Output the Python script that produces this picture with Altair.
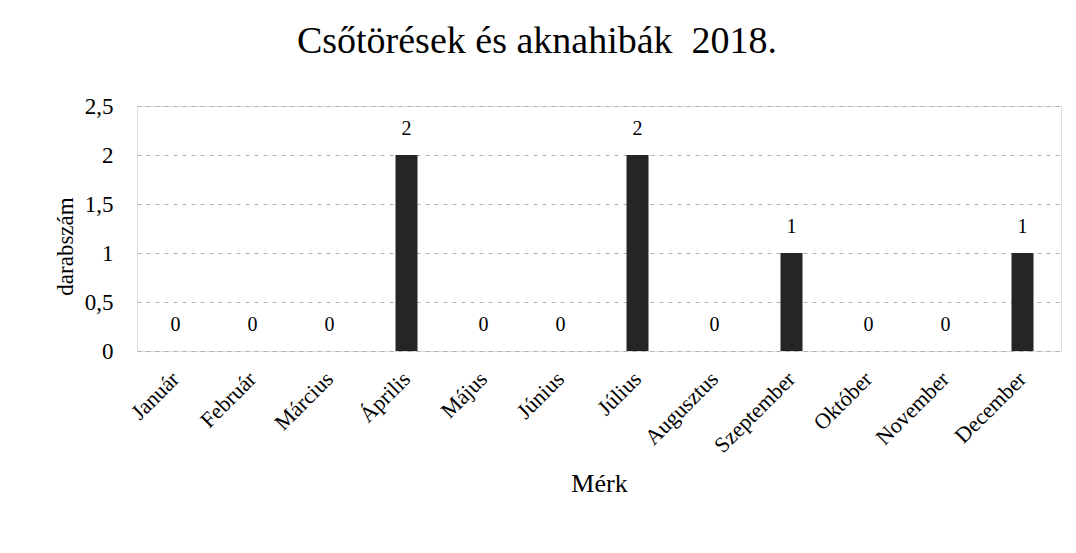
import altair as alt
import pandas as pd

months = ["Január", "Február", "Március", "Április", "Május", "Június",
          "Július", "Augusztus", "Szeptember", "Október", "November", "December"]
counts = [0, 0, 0, 2, 0, 0, 2, 0, 1, 0, 0, 1]
y_ticks = [0, 0.5, 1, 1.5, 2, 2.5]

df = pd.DataFrame({"honap": months, "darab": counts})

FONT = "Liberation Serif"

x_enc = alt.X("honap:N", sort=months, title="Mérk",
              scale=alt.Scale(paddingInner=0.71, paddingOuter=0.355),
              axis=alt.Axis(labelAngle=-45, labelFont=FONT, labelFontSize=22,
                            labelColor="black", domain=False, ticks=False,
                            labelPadding=17, labelOffset=-7,
                            titleFont=FONT, titleFontSize=26,
                            titleFontWeight="normal", titleColor="black",
                            titleY=119, titleBaseline="top"))
y_enc = alt.Y("darab:Q", title="darabszám",
              scale=alt.Scale(domain=[0, 2.5], nice=False),
              axis=alt.Axis(values=y_ticks, format="~g",
                            labelExpr="replace(datum.label, '.', ',')",
                            labelFont=FONT, labelFontSize=23, labelColor="black",
                            domain=False, ticks=False, labelPadding=24,
                            grid=True, gridColor="#b0b0b0", gridDash=[4, 5],
                            gridWidth=1, titleFont=FONT, titleFontSize=23,
                            titleFontWeight="normal", titleColor="black",
                            titleX=-72, titleY=140, titleAngle=-90,
                            titleBaseline="middle"))

bars = alt.Chart(df).mark_bar(color="#252525", size=22).encode(x=x_enc, y=y_enc)
labels = alt.Chart(df).mark_text(font=FONT, fontSize=20, color="black",
                                 baseline="middle", dy=-26).encode(
    x=alt.X("honap:N", sort=months), y=alt.Y("darab:Q"), text=alt.Text("darab:Q"))

chart = (bars + labels).properties(
    width=924, height=245,
    autosize=alt.AutoSizeParams(type="none"),
    padding={"left": 129, "top": 98, "right": 7, "bottom": 190},
    title=alt.TitleParams("Csőtörések és aknahibák\u00a0 2018.", font=FONT, fontSize=38,
                          fontWeight="normal", color="black", anchor="middle",
                          baseline="alphabetic", offset=4, dx=-62),
).configure_view(strokeWidth=0, stroke="transparent").configure(background="white")

chart.save("out.html", embed_options={"renderer": "svg", "actions": False})
